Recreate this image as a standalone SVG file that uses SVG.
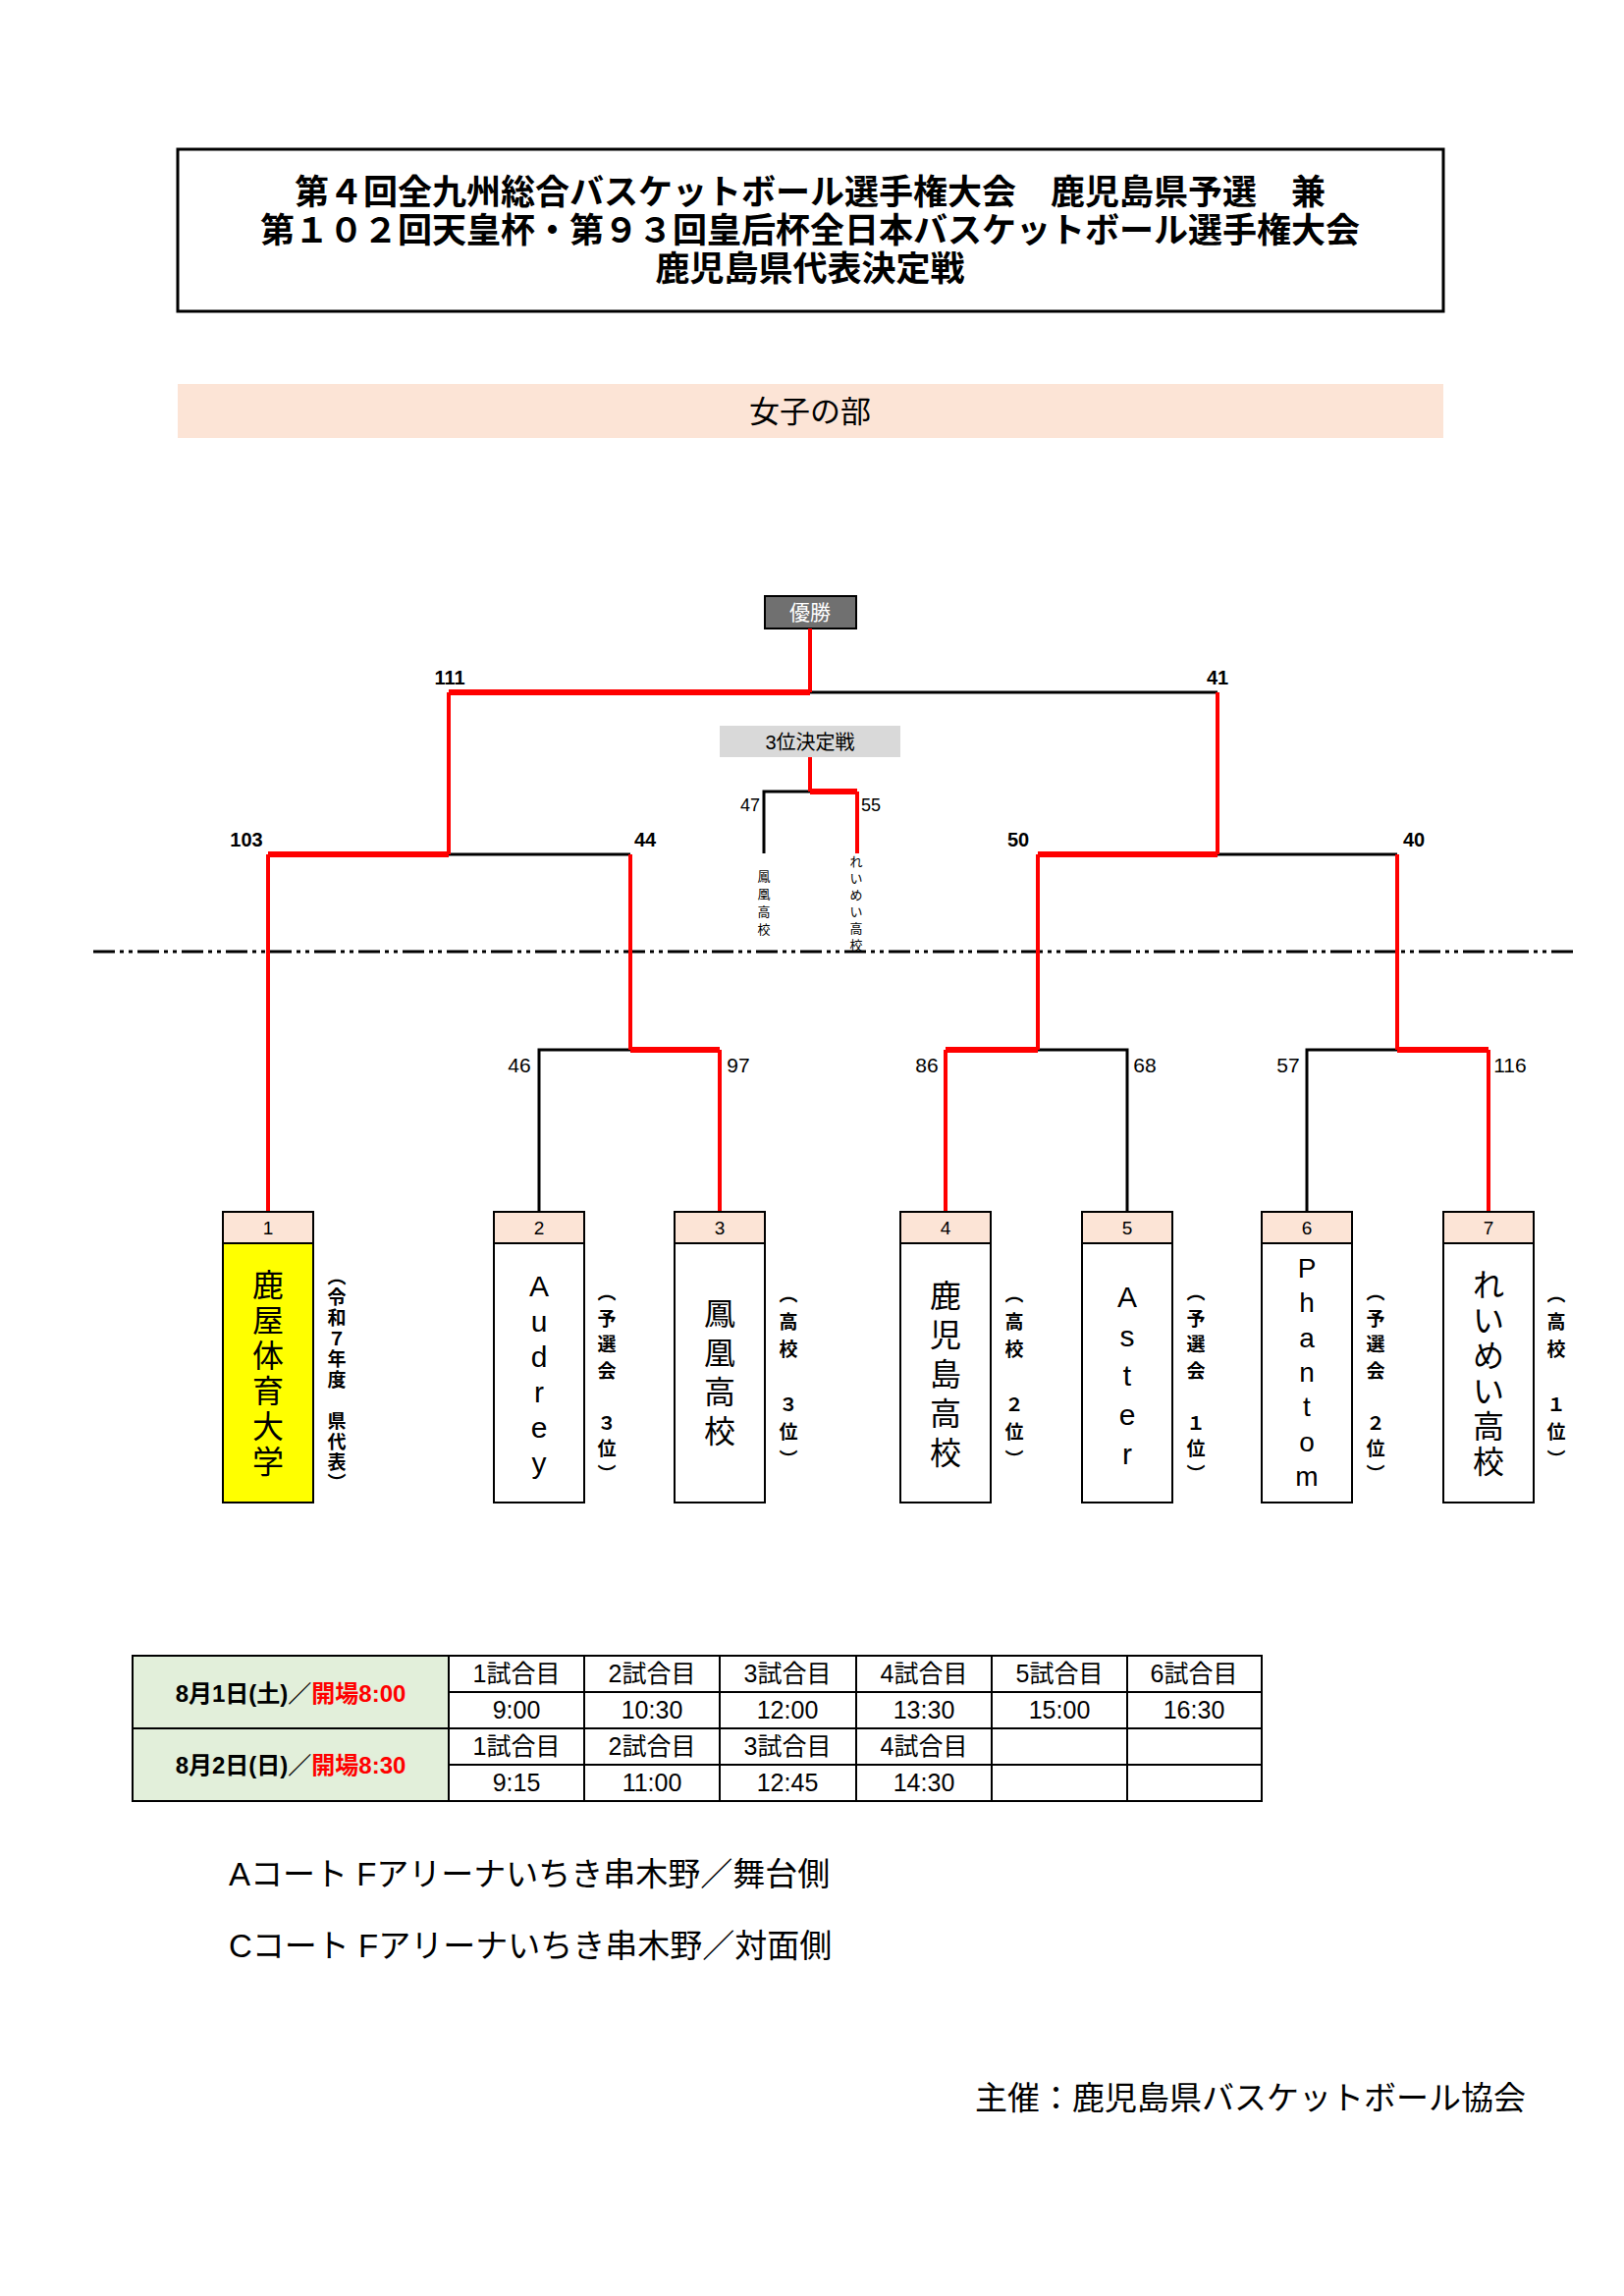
<svg xmlns="http://www.w3.org/2000/svg" width="1654" height="2338" viewBox="0 0 1654 2338">
<style>
text{font-family:"Liberation Sans","Noto Sans CJK JP",sans-serif;fill:#000}
.t{font-weight:bold;font-size:35px;text-anchor:middle}
.num{font-size:19px;text-anchor:middle}
.sc{font-size:20px;font-weight:bold;text-anchor:middle}
.nm{font-size:32px;text-anchor:middle;dominant-baseline:central}
.an{font-size:19px;font-weight:bold;text-anchor:middle;dominant-baseline:central}
.sm{font-size:13px;text-anchor:middle;dominant-baseline:central}
.k{stroke:#000;stroke-width:3;fill:none}
.r{stroke:#f00;stroke-width:4;fill:none}
.rh{stroke:#f00;stroke-width:6;fill:none}
.cell{fill:#fff;stroke:#000;stroke-width:2}
.tc{font-size:25px;text-anchor:middle}
.hd{fill:#fce4d6;stroke:#000;stroke-width:2}
.bd{fill:#fff;stroke:#000;stroke-width:2}
</style>
<rect width="1654" height="2338" fill="#fff"/>
<g id="title">
<rect x="181" y="152" width="1289" height="165" fill="#fff" stroke="#000" stroke-width="3"/>
<text class="t" x="825" y="208">第４回全九州総合バスケットボール選手権大会　鹿児島県予選　兼</text>
<text class="t" x="825" y="247">第１０２回天皇杯・第９３回皇后杯全日本バスケットボール選手権大会</text>
<text class="t" x="825" y="286">鹿児島県代表決定戦</text>
</g>
<g id="section">
<rect x="181" y="391" width="1289" height="55" fill="#fce4d6"/>
<text x="825" y="430" font-size="31" text-anchor="middle">女子の部</text>
</g>
<g id="champion">
<rect x="779" y="607" width="93" height="33" fill="#707070" stroke="#000" stroke-width="2"/>
<text x="825" y="631" font-size="21" fill="#fff" style="fill:#fff" text-anchor="middle">優勝</text>
</g>
<g id="third">
<rect x="733" y="739" width="184" height="32" fill="#d9d9d9"/>
<text x="825" y="763" font-size="20" text-anchor="middle">3位決定戦</text>
</g>
<g id="connectors">
<line x1="95" y1="969" x2="1605" y2="969" stroke="#000" stroke-width="3" stroke-dasharray="22,5,4,5,4,5"/>
<path class="k" d="M825 705H1240"/>
<path class="k" d="M457 870H642 M1240 870H1423"/>
<path class="k" d="M549 1234V1069H642 M1057 1069H1148V1234 M1331 1234V1069H1423"/>
<path class="k" d="M778 869V806H825"/>
<path class="r" d="M273 1234V870 M457 870V705 M825 705V640 M642 1069V870 M733 1234V1069 M963 1234V1069 M1057 1069V870 M1240 870V705 M1516 1234V1069 M1423 1069V870 M825 771V806 M873 806V869"/>
<path class="rh" d="M273 870H457 M457 705H825 M642 1069H733 M963 1069H1057 M1057 870H1240 M1423 1069H1516 M825 806H873"/>
</g>
<g id="scores">
<text class="sc" x="458" y="697">111</text><text class="sc" x="1240" y="697">41</text>
<text class="sc" x="251" y="862">103</text><text class="sc" x="657" y="862">44</text>
<text class="sc" x="1037" y="862">50</text><text class="sc" x="1440" y="862">40</text>
<text class="sc" x="764" y="826" font-weight="normal" style="font-weight:normal;font-size:18px">47</text>
<text class="sc" x="887" y="826" style="font-weight:normal;font-size:18px">55</text>
<text class="sc" x="529" y="1092" style="font-weight:normal;font-size:21px">46</text>
<text class="sc" x="752" y="1092" style="font-weight:normal;font-size:21px">97</text>
<text class="sc" x="944" y="1092" style="font-weight:normal;font-size:21px">86</text>
<text class="sc" x="1166" y="1092" style="font-weight:normal;font-size:21px">68</text>
<text class="sc" x="1312" y="1092" style="font-weight:normal;font-size:21px">57</text>
<text class="sc" x="1538" y="1092" style="font-weight:normal;font-size:21px">116</text>
<text class="sm" x="778"><tspan x="778" y="892">鳳</tspan><tspan x="778" y="910">凰</tspan><tspan x="778" y="928">高</tspan><tspan x="778" y="946">校</tspan></text>
<text class="sm" x="872"><tspan x="872" y="877">れ</tspan><tspan x="872" y="894">い</tspan><tspan x="872" y="911">め</tspan><tspan x="872" y="928">い</tspan><tspan x="872" y="945">高</tspan><tspan x="872" y="962">校</tspan></text>
</g>
<g id="team1">
<rect class="hd" x="227" y="1234" width="92" height="32"/><text class="num" x="273" y="1257">1</text>
<rect x="227" y="1266" width="92" height="264" fill="#ff0" stroke="#000" stroke-width="2"/>
<text class="nm"><tspan x="273" y="1309">鹿</tspan><tspan x="273" y="1345">屋</tspan><tspan x="273" y="1381">体</tspan><tspan x="273" y="1417">育</tspan><tspan x="273" y="1453">大</tspan><tspan x="273" y="1489">学</tspan></text>
<text class="an"><tspan x="343" y="1300">︵</tspan><tspan x="343" y="1321">令</tspan><tspan x="343" y="1342">和</tspan><tspan x="343" y="1363">７</tspan><tspan x="343" y="1384">年</tspan><tspan x="343" y="1405">度</tspan><tspan x="343" y="1447">県</tspan><tspan x="343" y="1468">代</tspan><tspan x="343" y="1489">表</tspan><tspan x="343" y="1510">︶</tspan></text>
</g>
<g id="team2">
<rect class="hd" x="503" y="1234" width="92" height="32"/><text class="num" x="549" y="1257">2</text>
<rect class="bd" x="503" y="1266" width="92" height="264"/>
<text class="nm" style="font-size:30px"><tspan x="549" y="1309">A</tspan><tspan x="549" y="1345">u</tspan><tspan x="549" y="1381">d</tspan><tspan x="549" y="1417">r</tspan><tspan x="549" y="1453">e</tspan><tspan x="549" y="1489">y</tspan></text>
<text class="an"><tspan x="618" y="1316">︵</tspan><tspan x="618" y="1343">予</tspan><tspan x="618" y="1369">選</tspan><tspan x="618" y="1396">会</tspan><tspan x="618" y="1449">３</tspan><tspan x="618" y="1475">位</tspan><tspan x="618" y="1501">︶</tspan></text>
</g>
<g id="team3">
<rect class="hd" x="687" y="1234" width="92" height="32"/><text class="num" x="733" y="1257">3</text>
<rect class="bd" x="687" y="1266" width="92" height="264"/>
<text class="nm"><tspan x="733" y="1338">鳳</tspan><tspan x="733" y="1378">凰</tspan><tspan x="733" y="1418">高</tspan><tspan x="733" y="1458">校</tspan></text>
<text class="an"><tspan x="803" y="1318">︵</tspan><tspan x="803" y="1346">高</tspan><tspan x="803" y="1374">校</tspan><tspan x="803" y="1430">３</tspan><tspan x="803" y="1458">位</tspan><tspan x="803" y="1486">︶</tspan></text>
</g>
<g id="team4">
<rect class="hd" x="917" y="1234" width="92" height="32"/><text class="num" x="963" y="1257">4</text>
<rect class="bd" x="917" y="1266" width="92" height="264"/>
<text class="nm"><tspan x="963" y="1320">鹿</tspan><tspan x="963" y="1360">児</tspan><tspan x="963" y="1400">島</tspan><tspan x="963" y="1440">高</tspan><tspan x="963" y="1480">校</tspan></text>
<text class="an"><tspan x="1033" y="1318">︵</tspan><tspan x="1033" y="1346">高</tspan><tspan x="1033" y="1374">校</tspan><tspan x="1033" y="1430">２</tspan><tspan x="1033" y="1458">位</tspan><tspan x="1033" y="1486">︶</tspan></text>
</g>
<g id="team5">
<rect class="hd" x="1102" y="1234" width="92" height="32"/><text class="num" x="1148" y="1257">5</text>
<rect class="bd" x="1102" y="1266" width="92" height="264"/>
<text class="nm" style="font-size:30px"><tspan x="1148" y="1320">A</tspan><tspan x="1148" y="1360">s</tspan><tspan x="1148" y="1400">t</tspan><tspan x="1148" y="1440">e</tspan><tspan x="1148" y="1480">r</tspan></text>
<text class="an"><tspan x="1218" y="1316">︵</tspan><tspan x="1218" y="1343">予</tspan><tspan x="1218" y="1369">選</tspan><tspan x="1218" y="1396">会</tspan><tspan x="1218" y="1449">１</tspan><tspan x="1218" y="1475">位</tspan><tspan x="1218" y="1501">︶</tspan></text>
</g>
<g id="team6">
<rect class="hd" x="1285" y="1234" width="92" height="32"/><text class="num" x="1331" y="1257">6</text>
<rect class="bd" x="1285" y="1266" width="92" height="264"/>
<text class="nm" style="font-size:28px"><tspan x="1331" y="1291">P</tspan><tspan x="1331" y="1326">h</tspan><tspan x="1331" y="1362">a</tspan><tspan x="1331" y="1397">n</tspan><tspan x="1331" y="1432">t</tspan><tspan x="1331" y="1468">o</tspan><tspan x="1331" y="1503">m</tspan></text>
<text class="an"><tspan x="1401" y="1316">︵</tspan><tspan x="1401" y="1343">予</tspan><tspan x="1401" y="1369">選</tspan><tspan x="1401" y="1396">会</tspan><tspan x="1401" y="1449">２</tspan><tspan x="1401" y="1475">位</tspan><tspan x="1401" y="1501">︶</tspan></text>
</g>
<g id="team7">
<rect class="hd" x="1470" y="1234" width="92" height="32"/><text class="num" x="1516" y="1257">7</text>
<rect class="bd" x="1470" y="1266" width="92" height="264"/>
<text class="nm"><tspan x="1516" y="1309">れ</tspan><tspan x="1516" y="1345">い</tspan><tspan x="1516" y="1381">め</tspan><tspan x="1516" y="1417">い</tspan><tspan x="1516" y="1453">高</tspan><tspan x="1516" y="1489">校</tspan></text>
<text class="an"><tspan x="1585" y="1318">︵</tspan><tspan x="1585" y="1346">高</tspan><tspan x="1585" y="1374">校</tspan><tspan x="1585" y="1430">１</tspan><tspan x="1585" y="1458">位</tspan><tspan x="1585" y="1486">︶</tspan></text>
</g>
<g id="schedule">
<rect x="135" y="1686" width="322" height="74" fill="#e2efda" stroke="#000" stroke-width="2"/>
<rect x="135" y="1760" width="322" height="74" fill="#e2efda" stroke="#000" stroke-width="2"/>
<g>
<rect class="cell" x="457" y="1686" width="138" height="37"/><rect class="cell" x="595" y="1686" width="138" height="37"/><rect class="cell" x="733" y="1686" width="139" height="37"/><rect class="cell" x="872" y="1686" width="138" height="37"/><rect class="cell" x="1010" y="1686" width="138" height="37"/><rect class="cell" x="1148" y="1686" width="137" height="37"/>
<rect class="cell" x="457" y="1723" width="138" height="37"/><rect class="cell" x="595" y="1723" width="138" height="37"/><rect class="cell" x="733" y="1723" width="139" height="37"/><rect class="cell" x="872" y="1723" width="138" height="37"/><rect class="cell" x="1010" y="1723" width="138" height="37"/><rect class="cell" x="1148" y="1723" width="137" height="37"/>
<rect class="cell" x="457" y="1760" width="138" height="37"/><rect class="cell" x="595" y="1760" width="138" height="37"/><rect class="cell" x="733" y="1760" width="139" height="37"/><rect class="cell" x="872" y="1760" width="138" height="37"/><rect class="cell" x="1010" y="1760" width="138" height="37"/><rect class="cell" x="1148" y="1760" width="137" height="37"/>
<rect class="cell" x="457" y="1797" width="138" height="37"/><rect class="cell" x="595" y="1797" width="138" height="37"/><rect class="cell" x="733" y="1797" width="139" height="37"/><rect class="cell" x="872" y="1797" width="138" height="37"/><rect class="cell" x="1010" y="1797" width="138" height="37"/><rect class="cell" x="1148" y="1797" width="137" height="37"/>
</g>
<text x="296" y="1733" font-size="24" font-weight="bold" text-anchor="middle">8月1日(土)／<tspan fill="#f00" style="fill:#f00">開場8:00</tspan></text>
<text x="296" y="1806" font-size="24" font-weight="bold" text-anchor="middle">8月2日(日)／<tspan fill="#f00" style="fill:#f00">開場8:30</tspan></text>
<text class="tc" x="526" y="1713">1試合目</text><text class="tc" x="664" y="1713">2試合目</text><text class="tc" x="802" y="1713">3試合目</text><text class="tc" x="941" y="1713">4試合目</text><text class="tc" x="1079" y="1713">5試合目</text><text class="tc" x="1216" y="1713">6試合目</text>
<text class="tc" x="526" y="1750">9:00</text><text class="tc" x="664" y="1750">10:30</text><text class="tc" x="802" y="1750">12:00</text><text class="tc" x="941" y="1750">13:30</text><text class="tc" x="1079" y="1750">15:00</text><text class="tc" x="1216" y="1750">16:30</text>
<text class="tc" x="526" y="1787">1試合目</text><text class="tc" x="664" y="1787">2試合目</text><text class="tc" x="802" y="1787">3試合目</text><text class="tc" x="941" y="1787">4試合目</text>
<text class="tc" x="526" y="1824">9:15</text><text class="tc" x="664" y="1824">11:00</text><text class="tc" x="802" y="1824">12:45</text><text class="tc" x="941" y="1824">14:30</text>
</g>
<g id="notes">
<text x="233" y="1920" font-size="33">Aコート Fアリーナいちき串木野／舞台側</text>
<text x="233" y="1993" font-size="33">Cコート Fアリーナいちき串木野／対面側</text>
<text x="1554" y="2148" font-size="33" text-anchor="end">主催：鹿児島県バスケットボール協会</text>
</g>
</svg>
